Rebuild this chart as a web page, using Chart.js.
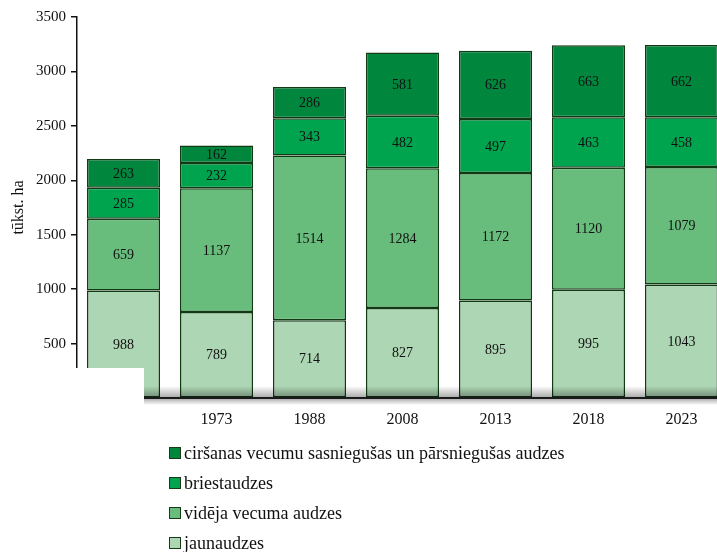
<!DOCTYPE html>
<html>
<head>
<meta charset="utf-8">
<script src="https://cdn.jsdelivr.net/npm/chart.js@4"></script>
<style>
  html, body { margin:0; padding:0; background:#fff; overflow:hidden; width:717px; height:552px; }
  #wrap { position:relative; width:740px; height:552px; }
  #legend { position:absolute; left:169px; top:438px; font-family:"Liberation Serif", "Times New Roman", serif; font-size:18px; color:#111; }
  .row { height:30px; display:flex; align-items:center; white-space:nowrap; }
  .box { width:10px; height:10px; border:1px solid #183a18; margin-right:3px; }
</style>
</head>
<body>
<div id="wrap">
  <canvas id="myChart" width="740" height="552"></canvas>
  <div id="legend"></div>
</div>
<script>
let years = ["1961", "1973", "1988", "2008", "2013", "2018", "2023"];

let jaunaudzes = [988, 789, 714, 827, 895, 995, 1043];
let videjaVecuma = [659, 1137, 1514, 1284, 1172, 1120, 1079];
let briestaudzes = [285, 232, 343, 482, 497, 463, 458];
let cirsanasVecuma = [263, 162, 286, 581, 626, 663, 662];

let names = ["jaunaudzes", "vidēja vecuma audzes", "briestaudzes", "ciršanas vecumu sasniegušas un pārsniegušas audzes"];
let colors = ["#add6b4", "#68bc7c", "#00a44f", "#00863d"];

let yMin = 0, yMax = 3500, yStep = 500;

let serif = "'Liberation Serif', 'Times New Roman', serif";

// numbers inside segments + shadow at the bottom + white patch
let extras = {
  id: "extras",
  afterDatasetsDraw(chart) {
    let c = chart.ctx;
    let a = chart.chartArea;
    c.save();
    let g = c.createLinearGradient(0, a.bottom - 12, 0, a.bottom);
    g.addColorStop(0, "rgba(0,0,0,0)");
    g.addColorStop(1, "rgba(0,0,0,0.35)");
    c.fillStyle = g;
    c.fillRect(a.left + 1, a.bottom - 12, a.right - a.left, 12);
    let g2 = c.createLinearGradient(0, a.bottom + 1, 0, a.bottom + 7);
    g2.addColorStop(0, "rgba(0,0,0,0.3)");
    g2.addColorStop(1, "rgba(0,0,0,0)");
    c.fillStyle = g2;
    c.fillRect(a.left, a.bottom + 1, a.right - a.left, 6);
    c.strokeStyle = "#1a1a1a";
    c.lineWidth = 2;
    c.beginPath();
    c.moveTo(a.left, a.bottom);
    c.lineTo(a.right, a.bottom);
    c.stroke();

    c.font = "14px " + serif;
    c.fillStyle = "#111";
    c.textAlign = "center";
    c.textBaseline = "middle";
    chart.data.datasets.forEach((ds, i) => {
      chart.getDatasetMeta(i).data.forEach((bar, j) => {
        c.fillText(ds.data[j], bar.x, (bar.y + bar.base) / 2 + 1);
      });
    });
    c.restore();
  },
  afterDraw(chart) {
    let c = chart.ctx;
    c.save();
    c.fillStyle = "#fff";
    c.fillRect(0, 368, 144, 80);
    c.restore();
  }
};

let ctx = document.getElementById("myChart");

let chartt = new Chart(ctx, {
  type: "bar",
  data: {
    labels: years,
    datasets: [
      { label: names[0], data: jaunaudzes, backgroundColor: colors[0] },
      { label: names[1], data: videjaVecuma, backgroundColor: colors[1] },
      { label: names[2], data: briestaudzes, backgroundColor: colors[2] },
      { label: names[3], data: cirsanasVecuma, backgroundColor: colors[3] },
    ].map(d => Object.assign(d, {
      borderColor: "#0f3a12",
      borderWidth: 1.5,
      borderSkipped: false,
      barPercentage: 0.785,
      categoryPercentage: 1,
    })),
  },
  options: {
    responsive: false,
    animation: false,
    layout: { padding: { top: 17, right: 12, left: 0, bottom: 0 } },
    plugins: {
      legend: { display: false },
      tooltip: { enabled: false },
    },
    scales: {
      x: {
        stacked: true,
        grid: { display: false },
        border: { display: false },
        ticks: { color: "#111", font: { family: serif, size: 16 }, padding: 4 },
        afterFit: s => { s.height = 552 - 398; },
      },
      y: {
        stacked: true,
        min: yMin,
        max: yMax,
        ticks: { stepSize: yStep, color: "#111", font: { family: serif, size: 15 }, padding: 5, callback: v => String(v) },
        grid: { drawOnChartArea: false, drawTicks: true, tickLength: 6, color: "#111", lineWidth: 1.5 },
        border: { display: true, color: "#111", width: 1.5 },
        title: { display: true, text: "tūkst. ha", color: "#111", font: { family: serif, size: 16 }, padding: { top: 9, bottom: 0 } },
        afterFit: s => { s.width = 77; },
      },
    },
  },
  plugins: [extras],
});

// legend, top entry first
let legend = document.getElementById("legend");
chartt.data.datasets.slice().reverse().forEach(ds => {
  let row = document.createElement("div");
  row.className = "row";
  let box = document.createElement("span");
  box.className = "box";
  box.style.background = ds.backgroundColor;
  row.appendChild(box);
  row.appendChild(document.createTextNode(ds.label));
  legend.appendChild(row);
});
</script>
</body>
</html>
